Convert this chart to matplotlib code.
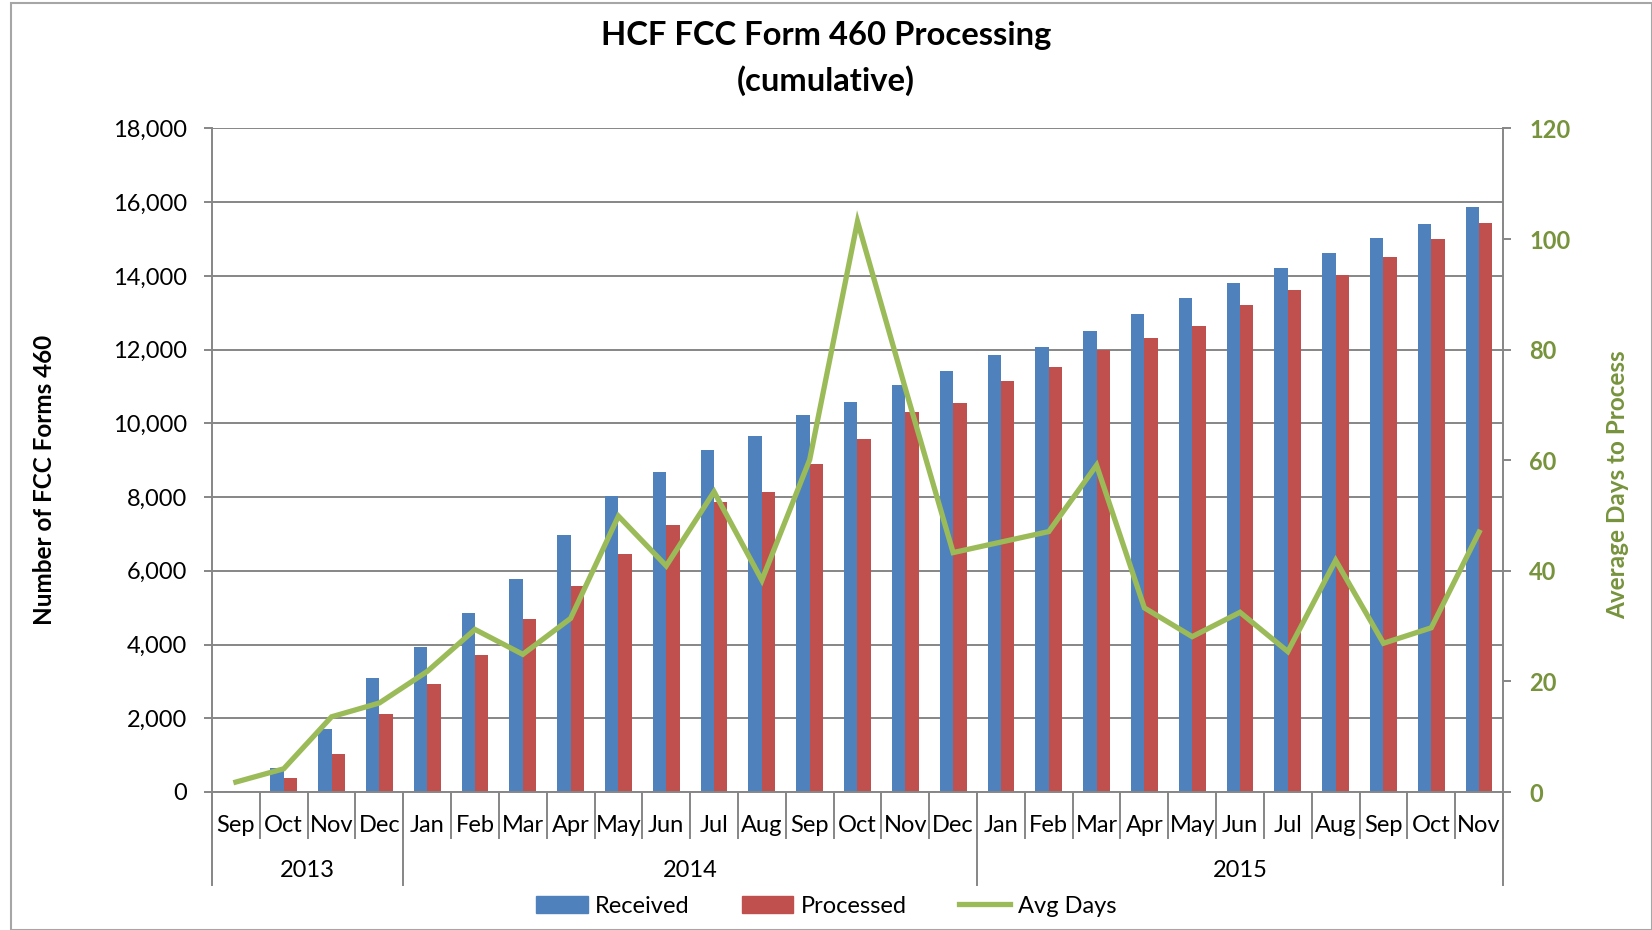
import matplotlib
matplotlib.use('Agg')
import matplotlib.pyplot as plt
import numpy as np
from matplotlib.patches import Rectangle
from matplotlib.lines import Line2D

months = ['Sep', 'Oct', 'Nov', 'Dec',
          'Jan', 'Feb', 'Mar', 'Apr', 'May', 'Jun', 'Jul', 'Aug', 'Sep', 'Oct', 'Nov', 'Dec',
          'Jan', 'Feb', 'Mar', 'Apr', 'May', 'Jun', 'Jul', 'Aug', 'Sep', 'Oct', 'Nov']
years = ['2013', '2014', '2015']
year_lengths = [4, 12, 11]

received = [30, 640, 1700, 3090, 3940, 4850, 5790, 6980, 8020, 8680, 9270, 9670, 10240, 10580,
            11030, 11430, 11860, 12080, 12500, 12960, 13390, 13800, 14210, 14620, 15040, 15400, 15870]
processed = [10, 370, 1020, 2120, 2920, 3710, 4680, 5590, 6460, 7230, 7880, 8130, 8890, 9570,
             10300, 10540, 11150, 11520, 11990, 12320, 12650, 13220, 13620, 14030, 14520, 15000, 15440]
avg_days = [1.8, 4.2, 13.6, 16.1, 21.8, 29.4, 24.9, 31.4, 49.9, 40.9, 54.3, 38.3, 60.1, 103.2,
            73.0, 43.3, 45.2, 47.1, 59.1, 33.3, 28.1, 32.5, 25.4, 41.9, 26.9, 29.7, 47.0]

BLUE = '#4F81BD'
RED = '#C0504D'
GREEN = '#9BBB59'
DKGREEN = '#77933C'
GRID = '#868686'

plt.rcParams['font.family'] = ['Lato', 'DejaVu Sans']
FS = 17

fig = plt.figure(figsize=(16.52, 9.30), dpi=100)
ax = fig.add_axes([212 / 1652, 1 - 792 / 930, (1503 - 212) / 1652, (792 - 128.5) / 930])

x = np.arange(len(months))
w = 0.28
ax.bar(x - w / 2, received, w, color=BLUE, label='Received', zorder=2)
ax.bar(x + w / 2, processed, w, color=RED, label='Processed', zorder=2)

ax.set_xlim(-0.5, len(months) - 0.5)
ax.set_ylim(0, 18000)
ax.set_yticks(np.arange(0, 18001, 2000))
ax.set_yticklabels(['{:,}'.format(v) for v in range(0, 18001, 2000)], fontsize=FS)
ax.yaxis.grid(True, color=GRID, linewidth=1.4, zorder=0)
ax.set_axisbelow(True)
ax.tick_params(axis='y', length=6, width=1.4, color=GRID, pad=12)
ax.set_xticks([])
for s in ['left', 'bottom', 'right']:
    ax.spines[s].set_color(GRID)
    ax.spines[s].set_linewidth(1.4)
ax.spines['top'].set_visible(False)
ax.set_ylabel('Number of FCC Forms 460', fontsize=17.5, fontweight='bold')
ax.yaxis.set_label_coords(-0.1209, 0.47)

# avg days on secondary axis
ax2 = ax.twinx()
ax2.plot(x, avg_days, color=GREEN, linewidth=3.8, solid_joinstyle='miter', label='Avg Days')
ax2.set_ylim(0, 120)
ax2.set_yticks(np.arange(0, 121, 20))
ax2.set_yticklabels([str(v) for v in range(0, 121, 20)], fontsize=FS, fontweight='bold', color=DKGREEN)
ax2.tick_params(axis='y', length=6, width=1.4, color=GRID, pad=13)
for s in ax2.spines.values():
    s.set_visible(False)
ax2.set_ylabel('Average Days to Process', fontsize=17.5, fontweight='bold', color=DKGREEN)
ax2.yaxis.set_label_coords(1.080, 0.463)

# two level category axis
tr = ax.get_xaxis_transform()
for i, m in enumerate(months):
    ax.text(i, -0.05, m, transform=tr, ha='center', va='center', fontsize=FS)
for b in np.arange(len(months) + 1) - 0.5:
    ax.plot([b, b], [0, -0.07], transform=tr, color=GRID, lw=1.4, clip_on=False)
start = -0.5
for yr, n in zip(years, year_lengths):
    ax.text(start + n / 2, -0.118, yr, transform=tr, ha='center', va='center', fontsize=FS)
    start += n
bounds = np.concatenate([[-0.5], -0.5 + np.cumsum(year_lengths)])
for b in bounds:
    ax.plot([b, b], [0, -0.14], transform=tr, color=GRID, lw=1.4, clip_on=False)

fig.text(0.5, 1 - 36 / 930, 'HCF FCC Form 460 Processing', ha='center', va='center',
         fontsize=23.6, fontweight='bold')
fig.text(0.5, 1 - 81 / 930, '(cumulative)', ha='center', va='center',
         fontsize=23.6, fontweight='bold')

handles = [Rectangle((0, 0), 1, 1, color=BLUE), Rectangle((0, 0), 1, 1, color=RED),
           Line2D([0], [0], color=GREEN, lw=3.8)]
fig.legend(handles, ['Received', 'Processed', 'Avg Days'], loc='center',
           bbox_to_anchor=(0.5, 1 - 906 / 930), ncol=3, frameon=False, fontsize=FS,
           handlelength=2.2, handleheight=0.7, handletextpad=0.3, columnspacing=2.2)

fig.patches.append(Rectangle((10.5 / 1652, 0), 1 - 11 / 1652, 1 - 3 / 930, transform=fig.transFigure,
                             fill=False, edgecolor='#a6a6a6', linewidth=1.5))

fig.savefig('out.png', dpi=100)
